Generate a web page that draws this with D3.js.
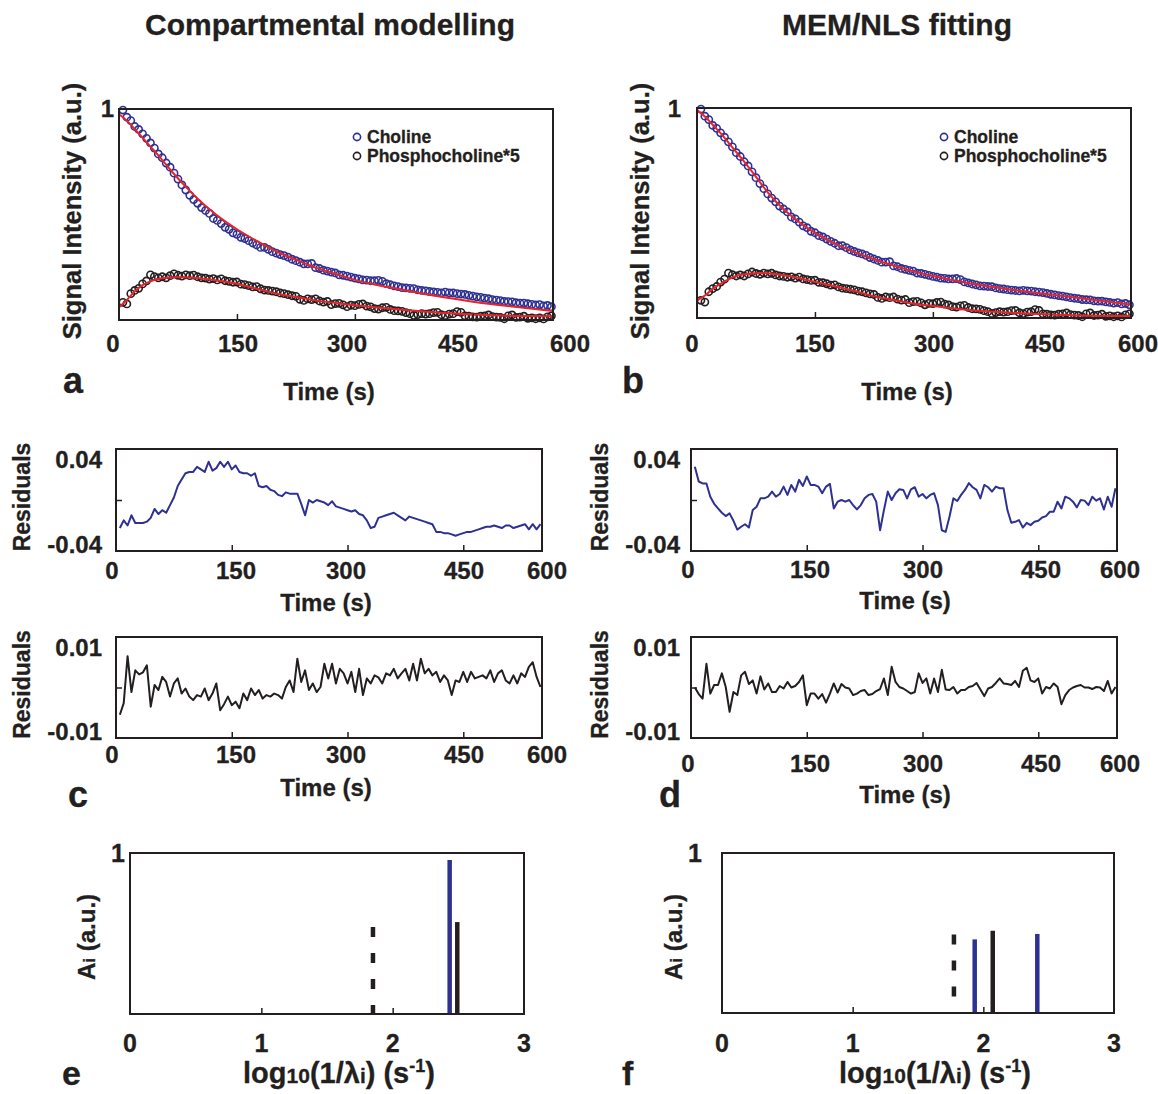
<!DOCTYPE html>
<html>
<head>
<meta charset="utf-8">
<script src="https://cdn.jsdelivr.net/npm/d3@7"></script>
<style>
  body { margin: 0; background: #fff; }
  text { font-family: "Liberation Sans", Arial, sans-serif; font-weight: bold; fill: #231f20;
         stroke: #231f20; stroke-width: 0.3px; }
</style>
</head>
<body>
<div id="main_content"></div>
<script>
var width = 1158, height = 1094;

// sampling times of the dynamic series, seconds (one scan every 5 s)
var time = d3.range(5, 555, 5);

// measured signals (same data in a and b)
var choline = [.995,.961,.945,.917,.903,.882,.861,.839,.815,.787,
  .769,.744,.724,.696,.668,.640,.616,.591,.571,.553,
  .533,.519,.505,.481,.472,.457,.439,.430,.413,.406,
  .392,.386,.376,.365,.356,.344,.344,.335,.324,.317,
  .310,.305,.298,.288,.281,.274,.266,.266,.268,.248,
  .244,.236,.232,.227,.223,.214,.212,.208,.203,.198,
  .195,.190,.189,.186,.186,.188,.183,.172,.167,.162,
  .158,.153,.152,.150,.149,.143,.140,.138,.135,.133,
  .131,.129,.132,.129,.128,.125,.123,.121,.117,.113,
  .110,.107,.104,.101,.097,.094,.092,.088,.087,.086,
  .082,.080,.080,.077,.074,.071,.073,.067,.069,.063];
var phosphocholine = [.084,.076,.125,.14,.15,.171,.185,.214,.206,.2,
  .205,.2,.21,.219,.212,.208,.214,.21,.213,.205,
  .2,.198,.194,.196,.19,.195,.186,.183,.179,.18,
  .17,.168,.163,.157,.158,.148,.142,.14,.137,.134,
  .128,.125,.12,.115,.112,.098,.093,.1,.097,.1,
  .09,.085,.088,.073,.078,.079,.072,.063,.07,.068,
  .074,.076,.066,.062,.054,.052,.058,.06,.05,.044,
  .043,.041,.035,.03,.022,.026,.03,.028,.03,.035,
  .036,.025,.021,.028,.03,.04,.036,.02,.018,.015,
  .014,.018,.02,.024,.016,.014,.012,.006,.02,.024,
  .012,.014,.018,.008,.01,.006,.01,.005,.015,.02];

// fitted curves
var fitTime = [0,10,20,30,40,50,60,70,80,90,100,125,150,175,200,225,250,275,300,350,400,450,500,552];
var cholineFitA = [.975,.945,.905,.864,.822,.78,.736,.692,.651,.612,.575,.495,.43,.375,.325,.286,.248,.219,.19,.15,.116,.087,.064,.043];
var pcFitA = [.06,.095,.135,.165,.183,.194,.2,.203,.203,.202,.199,.187,.172,.148,.126,.109,.093,.081,.07,.052,.037,.026,.02,.018];
var cholineFitB = [.99,.96,.92,.88,.835,.79,.745,.697,.647,.598,.556,.47,.405,.355,.315,.28,.25,.222,.2,.163,.135,.112,.088,.064];
var pcFitB = [.083,.107,.139,.163,.184,.2,.208,.212,.214,.213,.209,.194,.172,.151,.13,.103,.086,.069,.057,.037,.025,.017,.011,.01];

// residuals
var cholineResidC = [-.022,-.016,-.02,-.012,-.018,-.018,-.018,-.017,-.014,-.007,
  -.011,-.008,-.01,-.004,.002,.011,.016,.021,.022,.022,
  .026,.024,.022,.03,.023,.025,.03,.026,.03,.024,
  .027,.022,.021,.021,.019,.021,.011,.01,.011,.008,
  .007,.004,.003,.006,.005,.005,.005,-.003,-.012,0,
  -.002,0,-.001,-.002,-.004,-.001,-.005,-.006,-.007,-.008,
  -.009,-.008,-.011,-.012,-.016,-.022,-.021,-.014,-.013,-.012,
  -.011,-.01,-.012,-.014,-.016,-.013,-.014,-.015,-.016,-.017,
  -.018,-.019,-.025,-.025,-.026,-.026,-.027,-.028,-.027,-.026,
  -.025,-.025,-.024,-.023,-.022,-.021,-.021,-.02,-.021,-.022,
  -.02,-.02,-.022,-.021,-.02,-.019,-.023,-.019,-.023,-.019];
var pcResidC = [-.0054,-.0031,.0062,-.0009,.0034,.0026,.003,.0044,-.0038,.0005,
  -.0005,.0021,.0011,-.0018,.0008,.0018,-.0012,-.0002,-.0018,-.0025,
  -.0015,-.0018,-.0002,-.0025,-.0012,.0008,-.0045,-.0033,-.0018,-.0035,
  -.0028,-.0041,-.0012,-.0025,-.0002,-.0015,-.0005,-.0022,-.0015,-.0018,
  -.0012,-.0015,-.0022,.0001,.0014,-.0009,.0057,.0011,.0034,-.0005,
  .0008,-.0009,.0001,.0047,.0018,.0047,.0008,.0037,.0028,.0008,
  .0031,-.0009,.0037,-.0015,.0018,.0008,.0024,.002,.0008,.0028,
  .0024,.0037,.0018,.0028,.0037,.0014,.0047,.0014,.0057,.0028,
  .0037,.0024,.0031,.0011,.0024,.0014,-.0015,.0014,.0011,.0031,
  .0011,.0031,.0018,.0021,.0024,.0018,.0034,.0011,.0028,.0034,
  .0014,.0008,.0024,.0008,.0028,.0021,.0041,.005,.0021,.0001];
var cholineResidD = [.026,.0145,.013,.013,.0026,-.003,-.0066,-.01,-.0126,-.0105,
  -.0163,-.0232,-.021,-.019,-.0216,-.0079,-.0053,.0013,.0013,.0026,
  .0066,.0026,.0047,.0105,.004,.0118,.0066,.0158,.011,.0184,
  .0118,.0118,.0105,.0053,.0105,.0126,-.0066,-.0013,0,-.0013,
  0,-.004,-.0074,-.004,.0013,.004,.0047,-.0013,-.0237,-.0079,
  .0066,0,.0053,.0084,.0079,.0013,.0084,.01,.0026,.0047,
  .0013,.004,.0053,-.004,-.0237,-.025,-.013,.0013,-.0008,.004,
  .0079,.0132,.01,.0079,.0013,.0118,.01,.0066,.0105,.0092,
  .0092,-.0079,-.0179,-.0171,-.0158,-.0216,-.0179,-.0197,-.0171,-.0163,
  -.0137,-.0126,-.0092,-.0092,-.0013,-.0066,.0026,.0013,-.0013,-.0058,
  0,-.0005,-.004,.0026,-.0005,.0013,-.0074,.0026,-.0053,.0092];
var pcResidD = [0,-.0013,-.0022,.0047,-.0012,.0005,.0005,.0028,.0001,-.0048,
  -.0009,-.0015,.0024,.0031,.0007,.0014,-.0012,.0022,-.0004,.0008,
  -.0009,-.0009,.0003,-.0002,.0011,0,.0003,.0011,.0024,-.0035,
  -.0012,-.0012,-.0022,-.0013,-.003,-.0012,.0008,-.001,.0007,0,
  -.0002,-.0015,-.0012,-.0007,-.0005,-.0015,-.0013,-.0007,-.0003,.0018,
  -.0015,.0041,.0011,.0001,-.0002,-.0007,-.0012,-.0009,.0028,.0009,
  .0018,-.0012,.0018,-.0009,.0035,-.0004,-.0005,.0001,-.0012,-.0005,
  -.0005,.0001,.0003,.0009,-.0004,-.0017,-.0002,.0001,.0009,.0018,
  .0008,.0007,.0005,.0013,.0001,.0033,.0039,.0014,.0011,.0018,
  -.0012,.0001,-.0002,.0008,.0001,-.0033,-.0015,-.0005,0,.0003,
  .0005,0,0,-.0003,.0001,0,-.0007,.0013,-.0012,.0001];

// rate spectra, log10(1/lambda) and amplitude
var rateE = [1.85, 2.434, 2.492];
var ampE = [0.54, 0.957, 0.571];
var kindE = ['dash', 'blue', 'black'];
var rateF = [1.775, 1.934, 2.072, 2.413];
var ampF = [0.49, 0.46, 0.514, 0.494];
var kindF = ['dash', 'blue', 'black', 'blue'];

var timeTicks = [0, 150, 300, 450, 600];
var rateTicks = [0, 1, 2, 3];
var tEnd = 552;

var blue = '#2e3192', red = '#e8232a', ink = '#231f20';

var svg = d3.select('#main_content').append('svg')
  .attr('width', width)
  .attr('height', height)
  .style('background', 'white');

function label(x, y, str, size, anchor) {
  return svg.append('text')
    .attr('x', x).attr('y', y)
    .attr('text-anchor', anchor || 'middle')
    .style('font-size', size + 'px')
    .text(str);
}

function vlabel(x, y, str, size) {
  return svg.append('text')
    .attr('transform', 'translate(' + x + ',' + y + ') rotate(-90)')
    .attr('text-anchor', 'middle')
    .style('font-size', size + 'px')
    .text(str);
}

function frame(p) {
  svg.append('rect')
    .attr('x', p.left).attr('y', p.top)
    .attr('width', p.right - p.left).attr('height', p.bottom - p.top)
    .attr('fill', 'none').attr('stroke', ink).attr('stroke-width', 2);
}

function innerTicks(p, x, values) {
  svg.append('g')
    .attr('transform', 'translate(0,' + p.bottom + ')')
    .call(d3.axisBottom(x).tickValues(values).tickSize(-6).tickFormat(''))
    .call(function(g) { g.select('.domain').remove(); })
    .selectAll('line').attr('stroke', ink).attr('stroke-width', 1.5);
}

function timeLabels(p, x, labelX, base, titleX, titleBase) {
  innerTicks(p, x, [150, 300, 450]);
  // printed labels are not quite under the ticks in the original
  var lx = d3.scaleLinear().domain(timeTicks).range(labelX);
  svg.append('g').selectAll('text')
    .data(timeTicks)
    .enter().append('text')
    .attr('x', function(d) { return lx(d); })
    .attr('y', base)
    .attr('text-anchor', 'middle')
    .style('font-size', '24px')
    .text(function(d) { return d; });
  label(titleX, titleBase, 'Time (s)', 24);
}

// ---------- titles
label(330, 35, 'Compartmental modelling', 30);
label(897, 35, 'MEM/NLS fitting', 30);

// ---------- signal panels a and b
function signalPanel(p, cholFit, pcFit, opt) {
  var x = d3.scaleLinear().domain([0, tEnd]).range([p.left, p.right]);
  var y = d3.scaleLinear().domain([0, 1]).range([p.bottom, p.top]);

  svg.append('g').selectAll('circle')
    .data(time)
    .enter().append('circle')
    .attr('cx', function(d) { return x(d); })
    .attr('cy', function(d, i) { return y(choline[i]); })
    .attr('r', 3.6)
    .attr('fill', 'none')
    .attr('stroke', blue)
    .attr('stroke-width', 1.6);

  svg.append('g').selectAll('circle')
    .data(time)
    .enter().append('circle')
    .attr('cx', function(d) { return x(d); })
    .attr('cy', function(d, i) { return y(phosphocholine[i]); })
    .attr('r', 3.6)
    .attr('fill', 'none')
    .attr('stroke', ink)
    .attr('stroke-width', 1.6);

  [cholFit, pcFit].forEach(function(series) {
    var line = d3.line()
      .x(function(d) { return x(d); })
      .y(function(d, i) { return y(series[i]); })
      .curve(d3.curveMonotoneX);
    svg.append('path')
      .attr('d', line(fitTime))
      .attr('fill', 'none')
      .attr('stroke', red)
      .attr('stroke-width', 2);
  });

  frame(p);
  timeLabels(p, x, opt.labelX, 352, opt.titleX, 400);
  label(opt.oneX, 117, '1', 24, 'end');
  vlabel(opt.yTitleX, 211, 'Signal Intensity (a.u.)', 25.5);
  label(opt.letterX, 393, opt.letter, 36, 'start');

  // legend
  var lg = svg.append('g');
  [['Choline', blue], ['Phosphocholine*5', ink]].forEach(function(item, i) {
    lg.append('circle')
      .attr('cx', opt.legendX).attr('cy', 137 + i * 19)
      .attr('r', 3.6).attr('fill', 'none')
      .attr('stroke', item[1]).attr('stroke-width', 1.6);
    lg.append('text')
      .attr('x', opt.legendX + 10).attr('y', 143 + i * 19)
      .style('font-size', '17.5px')
      .text(item[0]);
  });
}

signalPanel({left: 119, right: 553, top: 109, bottom: 320}, cholineFitA, pcFitA, {
  labelX: [113, 238, 347, 458, 570], titleX: 329, oneX: 114, yTitleX: 81,
  letter: 'a', letterX: 63, legendX: 357
});
signalPanel({left: 697, right: 1131, top: 108, bottom: 318}, cholineFitB, pcFitB, {
  labelX: [692, 815, 934, 1045, 1138], titleX: 907, oneX: 681, yTitleX: 649,
  letter: 'b', letterX: 622, legendX: 944
});

// ---------- residual panels c and d
function residPanel(p, series, lim, color, opt) {
  var x = d3.scaleLinear().domain([0, tEnd]).range([p.left, p.right]);
  var y = d3.scaleLinear().domain([-lim, lim]).range([p.bottom, p.top]);

  var line = d3.line()
    .x(function(d) { return x(d); })
    .y(function(d, i) { return y(series[i]); });
  svg.append('path')
    .attr('d', line(time))
    .attr('fill', 'none')
    .attr('stroke', color)
    .attr('stroke-width', 2)
    .attr('stroke-linejoin', 'round');

  svg.append('g')
    .attr('transform', 'translate(' + p.left + ',0)')
    .call(d3.axisLeft(y).tickValues([0]).tickSize(-6).tickFormat(''))
    .call(function(g) { g.select('.domain').remove(); })
    .selectAll('line').attr('stroke', ink).attr('stroke-width', 1.5);

  frame(p);
  timeLabels(p, x, opt.labelX, opt.base, opt.titleX, opt.titleBase);
  label(opt.tickRight, y(lim) + 19, String(lim), 24, 'end');
  label(opt.tickRight, y(-lim) + 2, '-' + lim, 24, 'end');
  vlabel(opt.yTitleX, (p.top + p.bottom) / 2 - 3, 'Residuals', 23);
}

var cX = [112, 236, 346, 464, 547], dX = [688, 810, 923, 1041, 1120];
residPanel({left: 116, right: 542, top: 449, bottom: 551}, cholineResidC, 0.04, blue,
  {labelX: cX, base: 579, titleX: 326, titleBase: 611, tickRight: 102, yTitleX: 30});
residPanel({left: 116, right: 542, top: 637, bottom: 738}, pcResidC, 0.01, ink,
  {labelX: cX, base: 763, titleX: 326, titleBase: 796, tickRight: 102, yTitleX: 30});
residPanel({left: 691, right: 1117, top: 449, bottom: 551}, cholineResidD, 0.04, blue,
  {labelX: dX, base: 578, titleX: 905, titleBase: 609, tickRight: 680, yTitleX: 608});
residPanel({left: 691, right: 1117, top: 637, bottom: 738}, pcResidD, 0.01, ink,
  {labelX: dX, base: 772, titleX: 905, titleBase: 803, tickRight: 680, yTitleX: 608});
label(68, 807, 'c', 36, 'start');
label(659, 807, 'd', 36, 'start');

// ---------- rate spectra e and f
function spectrumPanel(p, rates, amps, kinds, opt) {
  var x = d3.scaleLinear().domain([0, 3]).range([p.left, p.right]);
  var y = d3.scaleLinear().domain([0, 1]).range([p.bottom, p.top]);

  innerTicks(p, x, [1, 2]);

  svg.append('g').selectAll('line')
    .data(rates)
    .enter().append('line')
    .attr('x1', function(d) { return x(d); })
    .attr('x2', function(d) { return x(d); })
    .attr('y1', function(d, i) { return y(amps[i]); })
    .attr('y2', y(0))
    .attr('stroke', function(d, i) { return kinds[i] === 'blue' ? blue : ink; })
    .attr('stroke-width', 4.5)
    .attr('stroke-dasharray', function(d, i) { return kinds[i] === 'dash' ? '10,16' : null; });

  frame(p);

  svg.append('g').selectAll('text')
    .data(rateTicks)
    .enter().append('text')
    .attr('x', function(d) { return x(d); })
    .attr('y', 1052)
    .attr('text-anchor', 'middle')
    .style('font-size', '25px')
    .text(function(d) { return d; });

  label(opt.oneX, p.top + 9, '1', 25, 'end');

  var yt = svg.append('text')
    .attr('transform', 'translate(' + opt.yTitleX + ',' + 937 + ') rotate(-90)')
    .attr('text-anchor', 'middle')
    .style('font-size', '24px');
  yt.append('tspan').text('A');
  yt.append('tspan').style('font-size', '17px').text('i');
  yt.append('tspan').text(' (a.u.)');

  var xt = svg.append('text')
    .attr('x', opt.titleX).attr('y', 1083)
    .attr('text-anchor', 'middle')
    .style('font-size', '29px');
  xt.append('tspan').text('log');
  xt.append('tspan').style('font-size', '21px').text('10');
  xt.append('tspan').text('(1/λ');
  xt.append('tspan').style('font-size', '21px').text('i');
  xt.append('tspan').text(') (s');
  xt.append('tspan').style('font-size', '18px').attr('dy', -11).text('-1');
  xt.append('tspan').attr('dy', 11).text(')');

  label(opt.letterX, opt.letterY, opt.letter, 34, 'start');
}

spectrumPanel({left: 130, right: 524, top: 853, bottom: 1014}, rateE, ampE, kindE,
  {oneX: 125, yTitleX: 95, titleX: 339, letter: 'e', letterX: 62, letterY: 1085});
spectrumPanel({left: 722, right: 1114, top: 853, bottom: 1013}, rateF, ampF, kindF,
  {oneX: 702, yTitleX: 682, titleX: 935, letter: 'f', letterX: 622, letterY: 1085});
</script>
</body>
</html>
